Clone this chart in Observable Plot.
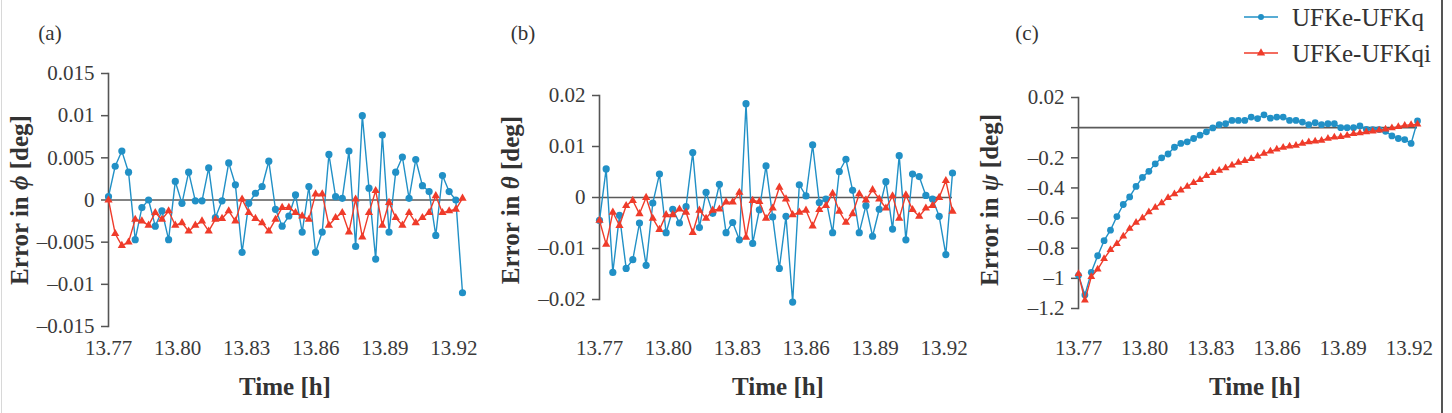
<!DOCTYPE html>
<html>
<head>
<meta charset="utf-8">
<script src="https://cdn.jsdelivr.net/npm/d3@7"></script>
<script src="https://cdn.jsdelivr.net/npm/@observablehq/plot@0.6"></script>
<style>
  body { margin: 0; background: #fff; }
  #fig { position: relative; width: 1452px; height: 413px; overflow: hidden;
         font-family: "Liberation Serif", "DejaVu Serif", serif; color: #333; }
  #fig svg.panel { position: absolute; top: 0; overflow: visible; }
  #fig svg.panel, #fig svg.panel text { font-family: "Liberation Serif", "DejaVu Serif", serif !important; }
  .edge-left { position: absolute; left: 1px; top: 0; width: 1px; height: 413px; background: #d8d8d8; }
  .edge-right { position: absolute; left: 1441px; top: 0; width: 2px; height: 413px; background: #555; }
</style>
</head>
<body>
<div id="fig"><div class="edge-left"></div><div class="edge-right"></div></div>
<script>
// Sample times [h]
const time = [
  13.7700, 13.7729, 13.7758, 13.7787, 13.7816, 13.7845, 13.7874, 13.7903, 13.7932, 13.7961,
  13.7990, 13.8019, 13.8048, 13.8077, 13.8106, 13.8135, 13.8164, 13.8193, 13.8222, 13.8251,
  13.8280, 13.8309, 13.8338, 13.8367, 13.8396, 13.8425, 13.8454, 13.8483, 13.8512, 13.8541,
  13.8570, 13.8599, 13.8628, 13.8657, 13.8686, 13.8715, 13.8744, 13.8773, 13.8802, 13.8831,
  13.8860, 13.8889, 13.8918, 13.8947, 13.8976, 13.9005, 13.9034, 13.9063, 13.9092, 13.9121,
  13.9150, 13.9179, 13.9208, 13.9237
];

// Roll error phi [deg]
const phiQ = [
  0.0004, 0.0040, 0.0058, 0.0033, -0.0047, -0.0009, 0.0000, -0.0031, -0.0013, -0.0047,
  0.0022, -0.0004, 0.0033, -0.0001, -0.0001, 0.0038, -0.0021, -0.0001, 0.0044, 0.0018,
  -0.0062, -0.0004, 0.0008, 0.0016, 0.0046, -0.0011, -0.0031, -0.0019, 0.0006, -0.0038,
  0.0016, -0.0062, -0.0038, 0.0054, 0.0004, 0.0002, 0.0058, -0.0055, 0.0100, 0.0014,
  -0.0070, 0.0077, -0.0038, 0.0033, 0.0051, 0.0002, 0.0048, 0.0017, 0.0010, -0.0042,
  0.0029, 0.0010, 0.0000, -0.0110
];
const phiQi = [
  0.0000, -0.0040, -0.0054, -0.0050, -0.0023, -0.0025, -0.0030, -0.0015, -0.0023, -0.0013,
  -0.0030, -0.0027, -0.0037, -0.0030, -0.0025, -0.0037, -0.0023, -0.0022, -0.0013, -0.0025,
  0.0001, -0.0015, -0.0022, -0.0027, -0.0037, -0.0023, -0.0009, -0.0009, -0.0015, -0.0019,
  -0.0023, 0.0007, 0.0007, -0.0030, -0.0021, -0.0015, -0.0038, 0.0001, -0.0044, -0.0015,
  0.0011, -0.0030, -0.0003, -0.0021, -0.0030, -0.0015, -0.0027, -0.0021, -0.0015, 0.0005,
  -0.0015, -0.0013, -0.0011, 0.0002
];

// Pitch error theta [deg]
const thetaQ = [
  -0.0045, 0.0056, -0.0147, -0.0035, -0.0139, -0.0122, -0.0050, -0.0133, -0.0011, 0.0046,
  -0.0069, -0.0023, -0.0050, -0.0018, 0.0088, -0.0059, 0.0010, -0.0031, 0.0026, -0.0069,
  -0.0049, -0.0083, 0.0184, -0.0090, -0.0024, 0.0062, -0.0038, -0.0139, -0.0037, -0.0205,
  0.0025, 0.0003, 0.0103, -0.0010, -0.0003, -0.0069, 0.0051, 0.0075, 0.0014, -0.0069,
  -0.0016, -0.0076, -0.0023, 0.0031, -0.0062, 0.0082, -0.0083, 0.0046, 0.0041, 0.0004,
  -0.0003, -0.0037, -0.0112, 0.0048
];
const thetaQi = [
  -0.0045, -0.0092, -0.0029, -0.0055, -0.0016, -0.0006, -0.0032, 0.0000, -0.0041, -0.0063,
  -0.0034, -0.0034, -0.0023, -0.0029, -0.0069, -0.0025, -0.0041, -0.0025, -0.0023, -0.0009,
  -0.0009, 0.0010, -0.0078, -0.0006, -0.0008, -0.0041, -0.0021, 0.0020, -0.0003, -0.0034,
  -0.0029, -0.0025, -0.0056, -0.0024, -0.0016, 0.0008, -0.0027, -0.0049, -0.0032, 0.0007,
  -0.0005, 0.0015, -0.0003, -0.0021, 0.0003, -0.0041, 0.0005, -0.0024, -0.0037, -0.0021,
  -0.0016, 0.0000, 0.0033, -0.0027
];

// Yaw error psi [deg]
const psiQ = [
  -0.98, -1.11, -0.96, -0.85, -0.75, -0.68, -0.59, -0.51, -0.46, -0.39,
  -0.33, -0.29, -0.24, -0.20, -0.175, -0.13, -0.105, -0.094, -0.072, -0.05,
  -0.028, -0.002, 0.02, 0.026, 0.048, 0.048, 0.048, 0.07, 0.06, 0.085,
  0.063, 0.07, 0.07, 0.048, 0.048, 0.037, 0.02, 0.033, 0.02, 0.026,
  0.026, 0.0, 0.0, 0.0, 0.011, -0.011, -0.013, -0.013, -0.024, -0.055,
  -0.072, -0.079, -0.105, 0.044
];
const psiQi = [
  -0.97, -1.145, -0.99, -0.94, -0.87, -0.81, -0.77, -0.72, -0.67, -0.63,
  -0.60, -0.56, -0.53, -0.50, -0.465, -0.44, -0.415, -0.39, -0.365, -0.345,
  -0.32, -0.30, -0.285, -0.268, -0.25, -0.232, -0.22, -0.207, -0.19, -0.172,
  -0.157, -0.143, -0.132, -0.123, -0.118, -0.105, -0.095, -0.09, -0.085, -0.072,
  -0.063, -0.061, -0.052, -0.04, -0.035, -0.029, -0.024, -0.018, -0.01, -0.003,
  0.006, 0.014, 0.02, 0.022
];

const xTicks = [13.77, 13.80, 13.83, 13.86, 13.89, 13.92];
const phiTicks = [-0.015, -0.01, -0.005, 0, 0.005, 0.01, 0.015];
const thetaTicks = [-0.02, -0.01, 0, 0.01, 0.02];
const psiTicks = [-1.2, -1, -0.8, -0.6, -0.4, -0.2, 0, 0.2];
const seriesNames = ["UFKe-UFKq", "UFKe-UFKqi"];
const seriesColors = ["#2190c6", "#ef3b2a"];

const H = 413;
const FONT = '"Liberation Serif", "DejaVu Serif", serif';
const dash = d => (d < 0 ? "\u2013" : "") + String(+Math.abs(d).toFixed(4));
const psiFormat = d => d === 0 ? "" : d === 0.2 ? "0.02" : dash(d);

const fig = d3.select("#fig");

function panel(o) {
  const q = time.map((t, i) => ({t, v: o.q[i]}));
  const qi = time.map((t, i) => ({t, v: o.qi[i]}));
  const frameBottom = H - o.marginBottom;
  const svg = Plot.plot({
    width: o.width, height: H,
    marginLeft: o.marginLeft, marginRight: o.marginRight,
    marginTop: o.marginTop, marginBottom: o.marginBottom,
    style: {fontFamily: FONT, fontSize: "21px", color: "#3a3a3a", background: "transparent", overflow: "visible"},
    x: {domain: [time[0], time[time.length - 1]]},
    y: {domain: o.yDomain},
    marks: [
      Plot.axisX(xTicks, {tickSize: 0, tickPadding: 340 - frameBottom, tickFormat: d => d.toFixed(2), label: null}),
      Plot.axisY(o.yTicks, {tickSize: 7, tickPadding: 7, tickFormat: o.yFormat, stroke: "#555", strokeWidth: 1.5, label: null}),
      Plot.frame({anchor: "left", stroke: "#555", strokeWidth: 1.6}),
      Plot.ruleY([0], {stroke: "#5a5a5a", strokeWidth: 1.6}),
      Plot.line(q, {x: "t", y: "v", stroke: seriesColors[0], strokeWidth: 1.4}),
      Plot.dot(q, {x: "t", y: "v", fill: seriesColors[0], r: o.r}),
      Plot.line(qi, {x: "t", y: "v", stroke: seriesColors[1], strokeWidth: 1.4}),
      Plot.dot(qi, {x: "t", y: "v", symbol: "triangle", fill: seriesColors[1], r: o.r * 0.85})
    ]
  });
  const s = d3.select(svg).attr("class", "panel").attr("font-family", FONT)
    .style("left", o.left + "px").style("font-family", FONT);

  // panel tag
  s.append("text").attr("x", o.tagX).attr("y", 40).attr("text-anchor", "middle")
    .style("font-size", "21px").attr("fill", "#333").text(o.tag);

  // y title with italic angle symbol
  const yt = s.append("text")
    .attr("transform", `translate(${o.marginLeft - 80},200) rotate(-90)`)
    .attr("text-anchor", "middle").attr("fill", "#333")
    .style("font-size", "25px").style("font-weight", "bold");
  yt.append("tspan").text("Error in ");
  yt.append("tspan").style("font-style", "italic").text(o.symbol);
  yt.append("tspan").text(" [deg]");

  // x title
  s.append("text").attr("x", o.timeX).attr("y", 395).attr("text-anchor", "middle")
    .attr("fill", "#333").style("font-size", "25px").style("font-weight", "bold").text("Time [h]");

  fig.node().appendChild(svg);
  return s;
}

panel({left: 0, width: 480, marginLeft: 108, marginRight: 18, marginTop: 73, marginBottom: 87,
  yDomain: [-0.015, 0.015], yTicks: phiTicks, yFormat: dash, q: phiQ, qi: phiQi,
  tag: "(a)", tagX: 50, symbol: "\u03d5", timeX: 285, r: 3.6});

panel({left: 480, width: 490, marginLeft: 119, marginRight: 18, marginTop: 95, marginBottom: 114,
  yDomain: [-0.02, 0.02], yTicks: thetaTicks, yFormat: dash, q: thetaQ, qi: thetaQi,
  tag: "(b)", tagX: 43, symbol: "\u03b8", timeX: 298, r: 3.6});

const c = panel({left: 970, width: 472, marginLeft: 108, marginRight: 25, marginTop: 97, marginBottom: 105,
  yDomain: [-1.2, 0.2], yTicks: psiTicks, yFormat: psiFormat, q: psiQ, qi: psiQi,
  tag: "(c)", tagX: 57, symbol: "\u03c8", timeX: 285, r: 3.4});

// legend
const lg = c.append("g");
seriesNames.forEach((name, i) => {
  const y = 17 + i * 36;
  lg.append("line").attr("x1", 274).attr("x2", 308).attr("y1", y).attr("y2", y)
    .attr("stroke", seriesColors[i]).attr("stroke-width", 1.5);
  lg.append("path")
    .attr("transform", `translate(291,${y})`)
    .attr("d", d3.symbol(i === 0 ? d3.symbolCircle : d3.symbolTriangle, i === 0 ? 28 : 30)())
    .attr("fill", seriesColors[i]);
  lg.append("text").attr("x", 322).attr("y", y + 9).attr("text-anchor", "start").attr("fill", "#333")
    .style("font-size", "25px").text(name);
});
</script>
</body>
</html>
